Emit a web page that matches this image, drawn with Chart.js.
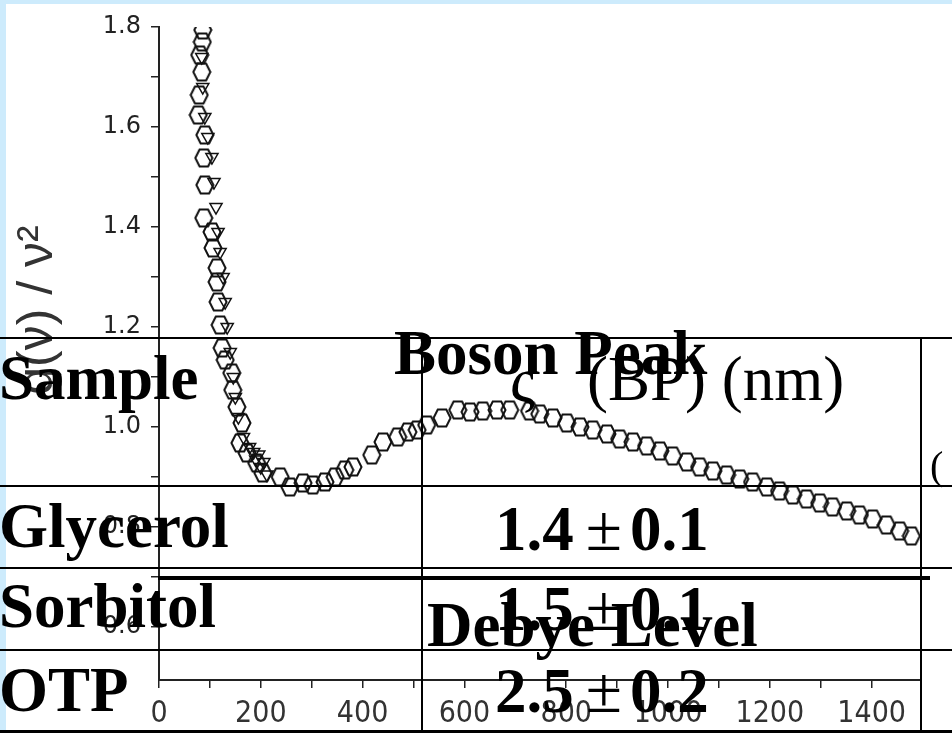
<!DOCTYPE html>
<html>
<head>
<meta charset="utf-8">
<script src="https://cdn.jsdelivr.net/npm/chart.js@4/dist/chart.umd.min.js"></script>
<style>
html, body { margin: 0; padding: 0; }
body { width: 952px; height: 733px; background: #cdebfc; position: relative; overflow: hidden; }
#sheet { position: absolute; left: 6px; top: 4px; right: 0; bottom: 0; background: #fff; }
#chart { position: absolute; left: 0; top: 0; }
.hl { position: absolute; left: 0; width: 952px; height: 2px; background: #000; }
.vl { position: absolute; top: 338px; width: 2px; height: 395px; background: #000; }
.t { position: absolute; font-family: "Liberation Serif", "Times New Roman", serif; font-size: 63px; line-height: 1; font-weight: bold; color: #000; white-space: nowrap; }
.n { font-weight: normal; }
.pm { font-weight: normal; font-size: 66px; margin: 0 8px 0 12px; }
</style>
</head>
<body>
<div id="sheet"></div>
<canvas id="chart" width="952" height="733"></canvas>

<!-- table drawn over the plot -->
<div class="hl" style="top:337px"></div>
<div class="hl" style="top:485px"></div>
<div class="hl" style="top:567px"></div>
<div class="hl" style="top:576px; left:158px; width:772px; height:4px"></div>
<div class="hl" style="top:649px"></div>
<div class="hl" style="top:730px; height:3px"></div>
<div class="vl" style="left:421px"></div>
<div class="vl" style="left:920px"></div>

<div class="t" style="left:-1px; top:347px">Sample</div>
<div class="t" style="left:394px; top:322px">Boson Peak</div>
<div class="t n" style="left:510px; top:350px">ς</div>
<div class="t n" style="left:587px; top:348px">(BP) (nm)</div>
<div class="t n" style="left:930px; top:446px; font-size:40px">(</div>
<div class="t" style="left:-1px; top:495px">Glycerol</div>
<div class="t" style="left:495px; top:495px">1.4<span class="pm">±</span>0.1</div>
<div class="t" style="left:-1px; top:575px">Sorbitol</div>
<div class="t" style="left:495px; top:575px">1.5<span class="pm">±</span>0.1</div>
<div class="t" style="left:427px; top:594px">Debye Level</div>
<div class="t" style="left:-1px; top:659px">OTP</div>
<div class="t" style="left:495px; top:657px">2.5<span class="pm">±</span>0.2</div>

<script>
// hexagon series (main curve)
const freqHex = [86, 85, 80, 84, 79, 77, 90, 88, 90, 88, 104, 106, 114, 114, 116, 120,
  124, 130, 143, 145, 153, 163, 159, 173, 192, 204, 238, 257, 283, 302, 326, 346, 365, 381,
  418, 440, 469, 489, 507, 526, 556, 587, 611, 636, 664, 689, 728, 748, 774, 801, 827, 852,
  880, 905, 931, 958, 984, 1009, 1037, 1062, 1088, 1115, 1141, 1166, 1194, 1219, 1245,
  1272, 1298, 1323, 1351, 1376, 1402, 1429, 1455, 1478];
const gHex = [1.794, 1.77, 1.744, 1.71, 1.664, 1.624, 1.584, 1.538, 1.484, 1.418, 1.39, 1.358,
  1.318, 1.29, 1.25, 1.204, 1.158, 1.134, 1.108, 1.074, 1.04, 1.008, 0.968, 0.948, 0.928,
  0.908, 0.9, 0.88, 0.888, 0.884, 0.89, 0.9, 0.914, 0.92, 0.944, 0.97, 0.98, 0.99, 0.994,
  1.004, 1.018, 1.034, 1.03, 1.032, 1.034, 1.034, 1.032, 1.026, 1.018, 1.008, 1.0, 0.994,
  0.986, 0.976, 0.97, 0.962, 0.952, 0.942, 0.93, 0.92, 0.912, 0.904, 0.896, 0.89, 0.88,
  0.872, 0.864, 0.856, 0.848, 0.84, 0.832, 0.824, 0.816, 0.804, 0.792, 0.782];

// down-triangle series hidden in the steep part
const freqTri = [84, 86, 90, 96, 104, 108, 112, 116, 120, 126, 130, 134, 140, 146, 150, 156,
  166, 178, 186, 190, 196, 200, 206, 212];
const gTri = [1.74, 1.68, 1.62, 1.58, 1.54, 1.49, 1.44, 1.39, 1.35, 1.3, 1.25, 1.2, 1.15,
  1.1, 1.06, 1.02, 0.98, 0.96, 0.95, 0.935, 0.945, 0.92, 0.93, 0.905];

const xTickLabels = ['0', '200', '400', '600', '800', '1000', '1200', '1400'];
const yTickLabels = ['0.6', '0.8', '1.0', '1.2', '1.4', '1.6', '1.8'];
const yTitle = 'g(ν) / ν²';

function hexagon(w, h) {
  const c = document.createElement('canvas');
  c.width = w + 3;
  c.height = h + 3;
  const g = c.getContext('2d');
  const cx = c.width / 2, cy = c.height / 2;
  g.beginPath();
  g.moveTo(cx - w / 2, cy);
  g.lineTo(cx - w / 4, cy - h / 2);
  g.lineTo(cx + w / 4, cy - h / 2);
  g.lineTo(cx + w / 2, cy);
  g.lineTo(cx + w / 4, cy + h / 2);
  g.lineTo(cx - w / 4, cy + h / 2);
  g.closePath();
  g.strokeStyle = '#111';
  g.lineWidth = 2;
  g.stroke();
  return c;
}

function toPoints(xs, ys) {
  return xs.map((x, i) => ({ x: x, y: ys[i] }));
}

// rotated y title, placed like the scan
const axisTitle = {
  id: 'axisTitle',
  afterDraw(chart) {
    const ctx = chart.ctx;
    ctx.save();
    ctx.translate(38, 310);
    ctx.rotate(-Math.PI / 2);
    ctx.font = '50px "Liberation Sans", Arial, sans-serif';
    ctx.fillStyle = '#333';
    ctx.textAlign = 'center';
    ctx.textBaseline = 'middle';
    ctx.fillText(yTitle, 0, 0);
    ctx.restore();
  }
};

const ctx = document.getElementById('chart').getContext('2d');
new Chart(ctx, {
  type: 'scatter',
  data: {
    datasets: [
      {
        data: toPoints(freqHex, gHex),
        pointStyle: hexagon(17, 17),
        pointRadius: 9
      },
      {
        data: toPoints(freqTri, gTri),
        pointStyle: 'triangle',
        rotation: 180,
        pointRadius: 7,
        borderColor: '#111',
        borderWidth: 1.5,
        backgroundColor: 'rgba(0,0,0,0)'
      }
    ]
  },
  options: {
    responsive: false,
    animation: false,
    layout: { padding: { top: 27, right: 32, bottom: 0, left: 0 } },
    plugins: { legend: { display: false }, tooltip: { enabled: false } },
    scales: {
      x: {
        type: 'linear',
        min: 0,
        max: 1495,
        afterFit: s => { s.height = 53; },
        afterBuildTicks: s => {
          const t = [];
          for (let v = 0; v <= 1400; v += 100) t.push({ value: v });
          s.ticks = t;
        },
        border: { color: '#222', width: 2 },
        grid: { drawOnChartArea: false, tickLength: 8, color: '#222', lineWidth: 1.5 },
        ticks: {
          autoSkip: false,
          maxRotation: 0,
          padding: 8,
          color: '#333',
          font: { family: '"Liberation Sans Narrow", "DejaVu Sans Condensed", sans-serif', size: 30 },
          callback: v => xTickLabels.includes(String(v)) ? String(v) : ''
        }
      },
      y: {
        type: 'linear',
        min: 0.494,
        max: 1.8,
        afterFit: s => { s.width = 159; },
        afterBuildTicks: s => {
          const t = [];
          for (let i = 6; i <= 18; i++) t.push({ value: i / 10 });
          s.ticks = t;
        },
        border: { color: '#222', width: 2 },
        grid: { drawOnChartArea: false, tickLength: 8, color: '#222', lineWidth: 1.5 },
        ticks: {
          autoSkip: false,
          padding: 10,
          color: '#222',
          font: { family: '"DejaVu Sans", sans-serif', size: 24 },
          callback: v => {
            const s = v.toFixed(1);
            return yTickLabels.includes(s) ? s : '';
          }
        }
      }
    }
  },
  plugins: [axisTitle]
});
</script>
</body>
</html>
